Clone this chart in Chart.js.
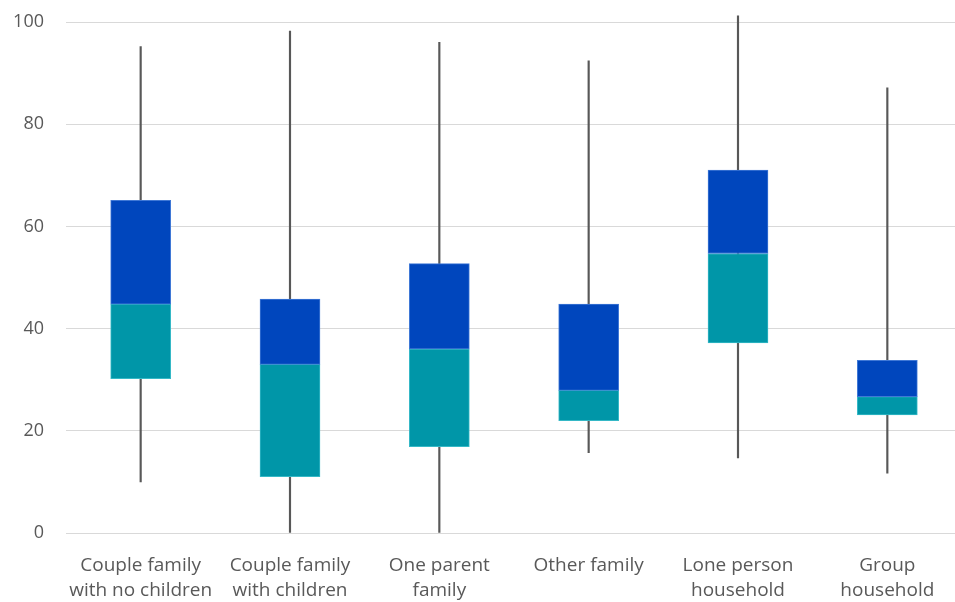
<!DOCTYPE html>
<html>
<head>
<meta charset="utf-8">
<script src="https://cdn.jsdelivr.net/npm/chart.js@4"></script>
<style>
  html, body { margin: 0; padding: 0; background: #fff; overflow: hidden; }
  .chart-wrap { width: 962px; height: 602px; }
</style>
</head>
<body>
<div class="chart-wrap">
  <canvas id="myChart" width="962" height="602"></canvas>
</div>
<script>
// household types on the x axis
const categories = [
  ['Couple family', 'with no children'],
  ['Couple family', 'with children'],
  ['One parent', 'family'],
  ['Other family'],
  ['Lone person', 'household'],
  ['Group', 'household']
];

// box plot values
const minValues = [10, 0, 0, 15.7, 14.7, 11.7];
const q1Values = [30.2, 11, 16.9, 22, 37.2, 23.1];
const medianValues = [44.8, 33, 36, 27.9, 54.7, 26.7];
const q3Values = [65.1, 45.8, 52.7, 44.8, 71, 33.8];
const maxValues = [95.2, 98.2, 96, 92.4, 101.2, 87.1];

const yTicks = [0, 20, 40, 60, 80, 100];

const lowerBox = q1Values.map((q1, i) => [q1, medianValues[i]]);
const upperBox = medianValues.map((m, i) => [m, q3Values[i]]);
const whiskers = minValues.map((mn, i) => [mn, maxValues[i]]);

const fontFamily = "'Open Sans', 'Noto Sans', sans-serif";

new Chart(document.getElementById('myChart'), {
  type: 'bar',
  data: {
    labels: categories,
    datasets: [
      {
        label: 'Median to Q3',
        data: upperBox,
        backgroundColor: '#0046BD',
        borderColor: '#3f78d6',
        borderWidth: 1,
        borderSkipped: false,
        barThickness: 60,
        grouped: false,
        order: 1
      },
      {
        label: 'Q1 to median',
        data: lowerBox,
        backgroundColor: '#0096A8',
        borderColor: '#35b8c6',
        borderWidth: 1,
        borderSkipped: false,
        barThickness: 60,
        grouped: false,
        order: 1
      },
      {
        label: 'Range',
        data: whiskers,
        backgroundColor: '#585858',
        borderWidth: 0,
        barThickness: 1.5,
        grouped: false,
        clip: false,
        order: 2
      }
    ]
  },
  options: {
    responsive: false,
    animation: false,
    layout: { padding: { top: 22, right: 0, left: 0, bottom: 0 } },
    plugins: {
      legend: { display: false },
      tooltip: { enabled: false }
    },
    scales: {
      x: {
        grid: { display: false },
        border: { display: false },
        ticks: {
          color: '#595959',
          padding: 12,
          maxRotation: 0,
          autoSkip: false,
          font: { family: fontFamily, size: 19, lineHeight: '25px' }
        },
        afterFit: (scale) => { scale.height = 69; }
      },
      y: {
        min: 0,
        max: 100,
        afterBuildTicks: (scale) => {
          scale.ticks = yTicks.map(v => ({ value: v }));
        },
        grid: { color: '#d9d9d9', lineWidth: 1, drawTicks: false },
        border: { display: false },
        ticks: {
          color: '#595959',
          padding: 22,
          font: { family: fontFamily, size: 18 }
        },
        afterFit: (scale) => {
          scale.width = 66;
          // keep the label padding from pushing the plot down
          scale.paddingTop = 0;
          scale.paddingBottom = 0;
        }
      }
    }
  }
});
</script>
</body>
</html>
